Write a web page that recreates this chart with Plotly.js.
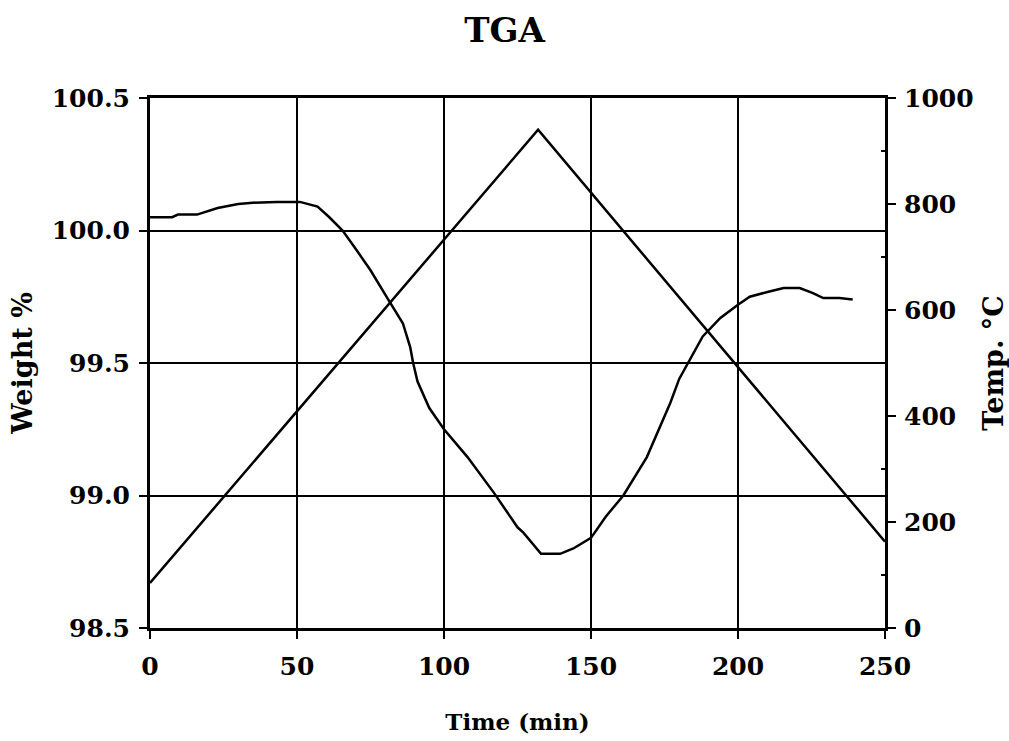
<!DOCTYPE html>
<html>
<head>
<meta charset="utf-8">
<script src="https://cdn.plot.ly/plotly-3.0.1.min.js"></script>
<style>html,body{margin:0;padding:0;background:#fff;}#chart{width:1009px;height:741px;}</style>
</head>
<body>
<div id="chart"></div>
<script>
// Weight % (left axis) vs time (min)
const weightTime = [0, 7.5, 9.5, 16, 23, 30, 35, 43, 51, 57, 61, 65.5, 70, 75, 81, 86, 88.5, 89.5, 91, 95, 100, 108, 117, 125, 127, 133, 139.5, 144, 150, 155, 161, 169, 177, 180, 188, 194, 200, 204, 210, 215.5, 221, 225.5, 229, 234.5, 239];
const weightPct  = [100.05, 100.05, 100.06, 100.06, 100.085, 100.10, 100.105, 100.108, 100.108, 100.09, 100.05, 100.0, 99.93, 99.85, 99.74, 99.65, 99.56, 99.50, 99.43, 99.33, 99.25, 99.145, 99.01, 98.88, 98.86, 98.78, 98.78, 98.80, 98.84, 98.92, 99.0, 99.145, 99.35, 99.44, 99.60, 99.67, 99.72, 99.75, 99.768, 99.783, 99.783, 99.764, 99.745, 99.745, 99.74];

// Temperature °C (right axis) vs time (min)
const tempTime = [0, 132, 250];
const tempC    = [85, 940, 163];

const xTicks = [0, 50, 100, 150, 200, 250];
const yTicks = [98.5, 99.0, 99.5, 100.0, 100.5];
const y2Ticks = [0, 200, 400, 600, 800, 1000];

const F = 'DejaVu Serif, Liberation Serif, serif';
const tickFont = {family: F, size: 25, color: '#000', weight: 'bold'};

const traces = [
  {x: weightTime, y: weightPct, type: 'scatter', mode: 'lines', name: 'Weight %',
   line: {color: '#000', width: 2.5}, yaxis: 'y', hoverinfo: 'x+y'},
  {x: tempTime, y: tempC, type: 'scatter', mode: 'lines', name: 'Temp. °C',
   line: {color: '#000', width: 2.5}, yaxis: 'y2', hoverinfo: 'x+y'}
];

const layout = {
  width: 1009, height: 741,
  margin: {l: 150, r: 124, t: 98, b: 113},
  paper_bgcolor: '#fff', plot_bgcolor: '#fff',
  showlegend: false,
  title: {text: 'TGA', font: {family: F, size: 34, color: '#000', weight: 'bold'},
          x: 0.5, xanchor: 'center', y: 0.96, yanchor: 'middle'},
  xaxis: {
    range: [0, 250], tickvals: xTicks, ticktext: xTicks.map(String),
    showgrid: true, gridcolor: '#000', gridwidth: 2,
    showline: true, linecolor: '#000', linewidth: 3, mirror: true,
    ticks: 'outside', ticklen: 8, tickwidth: 2, tickcolor: '#000',
    ticklabelstandoff: 6,
    zeroline: false, tickfont: tickFont,
    title: {text: 'Time (min)', font: {family: F, size: 23, color: '#000', weight: 'bold'}, standoff: 34}
  },
  yaxis: {
    range: [98.5, 100.5], tickvals: yTicks, ticktext: yTicks.map(v => v.toFixed(1)),
    showgrid: true, gridcolor: '#000', gridwidth: 2,
    showline: true, linecolor: '#000', linewidth: 3,
    ticks: 'outside', ticklen: 8, tickwidth: 2, tickcolor: '#000',
    ticklabelstandoff: 4,
    zeroline: false, tickfont: tickFont,
    title: {text: 'Weight %', font: {family: F, size: 27, color: '#000', weight: 'bold'}, standoff: 12}
  },
  yaxis2: {
    overlaying: 'y', side: 'right', anchor: 'x',
    range: [0, 1000], tickvals: y2Ticks, ticktext: y2Ticks.map(String),
    showgrid: false, showline: true, linecolor: '#000', linewidth: 3,
    ticks: 'outside', ticklen: 8, tickwidth: 2, tickcolor: '#000',
    ticklabelstandoff: 3,
    minor: {tickvals: [100, 300, 500, 700, 900], ticks: 'inside', ticklen: 4, tickcolor: '#000', tickwidth: 1.5},
    zeroline: false, tickfont: tickFont,
    title: {text: 'Temp. °C', font: {family: F, size: 27, color: '#000', weight: 'bold'}, standoff: 12}
  }
};

Plotly.newPlot('chart', traces, layout, {displayModeBar: false, staticPlot: false});
</script>
</body>
</html>
